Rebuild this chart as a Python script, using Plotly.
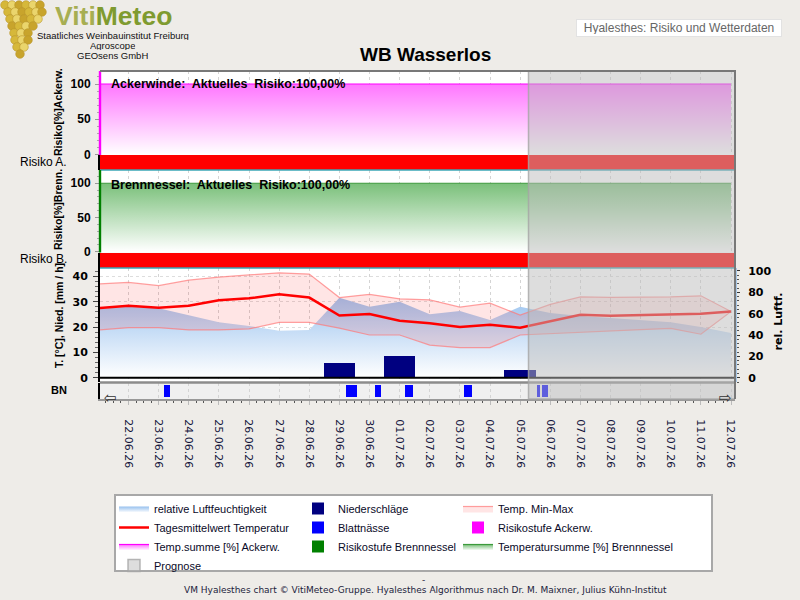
import plotly.graph_objects as go
import pandas as pd

# ---------------- data ----------------
dates = pd.date_range('2026-06-21', '2026-07-12', freq='D')
temp_mean = [27.5, 28.5, 27.7, 28.5, 30.6, 31.4, 33.0, 31.7, 24.6, 25.2, 22.5, 21.5, 20.1, 20.9, 19.8,
             22.5, 24.9, 24.5, 24.7, 25.1, 25.3, 26.2]
temp_max = [37.1, 37.7, 36.4, 38.6, 39.8, 40.6, 41.5, 41.0, 31.7, 33.0, 31.2, 30.8, 27.9, 29.5, 24.8,
            29.0, 32.0, 31.8, 31.8, 32.0, 32.4, 26.2]
temp_min = [18.9, 19.8, 19.8, 18.9, 18.9, 19.3, 21.9, 21.9, 19.6, 16.9, 16.9, 12.9, 11.9, 11.9, 16.9,
            17.5, 18.0, 18.5, 19.0, 19.5, 17.2, 26.2]
humidity = [64.4, 66.5, 65.0, 58.1, 51.9, 48.5, 44.0, 44.7, 75.0, 66.5, 71.2, 59.4, 62.5, 54.1, 66.5,
            60.6, 57.8, 56.0, 54.0, 52.0, 47.5, 42.0]
precip_dates = ['2026-06-29', '2026-07-01', '2026-07-05']
precip_mm = [5.8, 8.7, 3.0]
bn_start = ['2026-06-23 04:15', '2026-06-29 05:30', '2026-06-29 11:00', '2026-06-30 04:20',
            '2026-07-01 04:15', '2026-07-03 03:15', '2026-07-05 13:30', '2026-07-05 17:30']
bn_hours = [5, 5, 3, 5, 6, 6, 2, 5]
acker_sum = [100] * 22
brenn_sum = [100] * 22
risk_acker = [100] * 22
risk_brenn = [100] * 22
forecast_start = '2026-07-05 06:40'
x_range = ['2026-06-21 01:18', '2026-07-12 03:10']
current_risk_acker = '100,00%'
current_risk_brenn = '100,00%'

# ---------------- layout helpers ----------------
W, H = 800, 600
ML, MR, MT, MB = 100, 65, 71, 201
PW = W - ML - MR
PH = H - MT - MB
DAY = 86400000
HOUR = 3600000


def px(x):
    return (x - ML) / PW


def py(y):
    return (H - MB - y) / PH


LS = 'Liberation Sans, Arial, sans-serif'
DV = 'DejaVu Sans, Verdana, sans-serif'
BG = '#EEECE8'


def risk_color(v):
    return '#FF0000' if v >= 66 else ('#FFD700' if v >= 33 else '#00B000')


fig = go.Figure()

# ---- panel 1: Ackerwinde ----
fig.add_trace(go.Scatter(
    x=dates, y=acker_sum, mode='lines', fill='tozeroy',
    line=dict(color='#FF00FF', width=1.2),
    fillgradient=dict(type='vertical', colorscale=[[0, 'rgba(255,255,255,1)'], [1, 'rgba(255,118,255,1)']],
                      start=0, stop=100),
    xaxis='x', yaxis='y', name='Temp.summe [%] Ackerw.', legend='legend', legendrank=3, hoverinfo='skip'))
fig.add_trace(go.Bar(
    x=dates, y=[1 for _ in risk_acker], base=0, width=1.03 * DAY,
    marker=dict(color=[risk_color(r) for r in risk_acker], line=dict(width=0)),
    xaxis='x', yaxis='y2', showlegend=False, hoverinfo='skip'))

# ---- panel 2: Brennnessel ----
fig.add_trace(go.Scatter(
    x=dates, y=brenn_sum, mode='lines', fill='tozeroy',
    line=dict(color='#3C9A3C', width=1.2),
    fillgradient=dict(type='vertical', colorscale=[[0, 'rgba(255,255,255,1)'], [1, 'rgba(122,192,122,1)']],
                      start=0, stop=100),
    xaxis='x', yaxis='y3', name='Temperatursumme [%] Brennnessel', legend='legend3', legendrank=3,
    hoverinfo='skip'))
fig.add_trace(go.Bar(
    x=dates, y=[1 for _ in risk_brenn], base=0, width=1.03 * DAY,
    marker=dict(color=[risk_color(r) for r in risk_brenn], line=dict(width=0)),
    xaxis='x', yaxis='y4', showlegend=False, hoverinfo='skip'))

# ---- panel 3: weather ----
fig.add_trace(go.Scatter(
    x=dates, y=humidity, mode='lines', fill='tozeroy',
    line=dict(color='rgba(160,200,240,0)', width=0),
    fillgradient=dict(type='vertical', colorscale=[[0, 'rgba(255,255,255,1)'], [1, 'rgba(150,192,238,1)']],
                      start=0, stop=80),
    xaxis='x', yaxis='y5', name='relative Luftfeuchtigkeit', legend='legend', legendrank=1, hoverinfo='skip'))
fig.add_trace(go.Scatter(
    x=dates, y=temp_min, mode='lines', line=dict(color='rgba(255,120,120,0.7)', width=1.2),
    xaxis='x', yaxis='y6', showlegend=False, hoverinfo='skip'))
fig.add_trace(go.Scatter(
    x=dates, y=temp_max, mode='lines', fill='tonexty', fillcolor='rgba(255,0,0,0.1)',
    line=dict(color='rgba(255,120,120,0.7)', width=1.2),
    xaxis='x', yaxis='y6', name='Temp. Min-Max', legend='legend3', legendrank=1, hoverinfo='skip'))
fig.add_trace(go.Bar(
    x=precip_dates, y=precip_mm, width=1.05 * DAY, marker=dict(color='#000080', line=dict(width=0)),
    xaxis='x', yaxis='y6', name='Niederschläge', legend='legend2', legendrank=1, hoverinfo='skip'))
fig.add_trace(go.Scatter(
    x=dates, y=temp_mean, mode='lines', line=dict(color='#FF0000', width=2.5),
    xaxis='x', yaxis='y6', name='Tagesmittelwert Temperatur', legend='legend', legendrank=2, hoverinfo='skip'))

# ---- BN strip ----
fig.add_trace(go.Bar(
    x=bn_start, y=[1 for _ in bn_hours], base=0, offset=0, width=[h * HOUR for h in bn_hours],
    marker=dict(color='#0000FF', line=dict(width=0)),
    xaxis='x', yaxis='y7', name='Blattnässe', legend='legend2', legendrank=2, hoverinfo='skip'))

# ---------------- axes ----------------
tick_bold12 = dict(family=LS, size=12, color='#000', weight='bold')
tick_dv = dict(family=DV, size=11, color='#000', weight='bold')

layout = dict(
    width=W, height=H, paper_bgcolor=BG, plot_bgcolor='white',
    margin=dict(l=ML, r=MR, t=MT, b=MB), barmode='overlay', bargap=0,
    xaxis=dict(domain=[0, 1], anchor='y7', type='date', range=x_range, dtick=DAY, tick0='2026-06-22',
               tickformat='%d.%m.%y', tickangle=90, ticks='outside', ticklen=4, tickcolor='#BBBBBB',
               showgrid=True, gridcolor='#D4D4D4', griddash='dot', gridwidth=1,
               showline=True, linecolor='#999999', linewidth=2, zeroline=False,
               minor=dict(dtick=6 * HOUR, ticks='outside', ticklen=2, tickcolor='#555555', showgrid=False),
               tickfont=dict(family=DV, size=11, color='#14143C'), ticklabelstandoff=12),
    yaxis=dict(domain=[py(155), 1], range=[-1, 118.5], anchor='x', tick0=0, dtick=50,
               ticks='outside', ticklen=4, tickcolor='#999999',
               minor=dict(dtick=10, ticks='outside', ticklen=2, tickcolor='#AAAAAA'),
               showgrid=False, zeroline=False, showline=False, tickfont=tick_bold12, ticklabelstandoff=2),
    yaxis2=dict(domain=[py(170), py(155)], range=[0, 1], anchor='x', showticklabels=False, ticks='',
                showgrid=False, zeroline=False, showline=True, linecolor='black', linewidth=2),
    yaxis3=dict(domain=[py(252.5), py(170)], range=[-1.2, 119.4], anchor='x', tick0=0, dtick=50,
                ticks='outside', ticklen=4, tickcolor='#999999',
                minor=dict(dtick=10, ticks='outside', ticklen=2, tickcolor='#AAAAAA'),
                showgrid=False, zeroline=False, showline=False, tickfont=tick_bold12, ticklabelstandoff=2),
    yaxis4=dict(domain=[py(268), py(252.5)], range=[0, 1], anchor='x', showticklabels=False, ticks='',
                showgrid=False, zeroline=False, showline=True, linecolor='black', linewidth=2),
    yaxis5=dict(domain=[py(382), py(268)], range=[-4.0, 102.8], anchor='x', side='right', dtick=20,
                ticks='outside', ticklen=3, tickcolor='#333333',
                minor=dict(dtick=4, ticks='outside', ticklen=2, tickcolor='#555555'),
                showgrid=False, zeroline=False, showline=True, linecolor='#A8C8E8', linewidth=2,
                tickfont=tick_dv, ticklabelstandoff=6),
    yaxis6=dict(overlaying='y5', side='left', anchor='x', range=[-1.7, 43.4], dtick=10,
                ticks='outside', ticklen=5, tickcolor='#444444',
                minor=dict(dtick=2, ticks='outside', ticklen=3, tickcolor='#666666'),
                showgrid=True, gridcolor='#DDDDDD', griddash='dot', zeroline=False,
                showline=True, linecolor='black', linewidth=2, tickfont=tick_dv, ticklabelstandoff=3),
    yaxis7=dict(domain=[0, py(383)], range=[-0.12, 1.12], anchor='x', showticklabels=False, ticks='',
                showgrid=False, zeroline=False, showline=True, linecolor='black', linewidth=2),
)

leg_common = dict(bgcolor='rgba(0,0,0,0)', borderwidth=0, orientation='v', xanchor='left', yanchor='top',
                  itemwidth=30, tracegroupgap=0, traceorder='normal',
                  font=dict(family=LS, size=11, color='#0A0A28'))
layout['legend'] = dict(leg_common, x=px(114), y=py(494))
layout['legend2'] = dict(leg_common, x=px(298), y=py(494))
layout['legend3'] = dict(leg_common, x=px(458), y=py(494))

# ---------------- shapes ----------------
shapes = []
# BN strip background
shapes.append(dict(type='rect', xref='x domain', yref='y7 domain', x0=0, x1=1, y0=0, y1=1,
                   fillcolor='#F0F0F0', line=dict(width=0), layer='below'))
# legend frame
shapes.append(dict(type='rect', xref='paper', yref='paper', x0=px(115), x1=px(712), y0=py(571), y1=py(495),
                   fillcolor='white', line=dict(color='#A8A8A8', width=2), layer='below'))
# zero line of the weather panel
shapes.append(dict(type='line', xref='x domain', yref='y6', x0=0, x1=1, y0=0, y1=0,
                   line=dict(color='black', width=2), layer='above'))
# teal separators under the risk bands
for ypix in (170, 268):
    shapes.append(dict(type='line', xref='paper', yref='paper', x0=0, x1=1, y0=py(ypix), y1=py(ypix),
                       line=dict(color='#3AA6B6', width=1.5), layer='above'))
# separator above BN strip
shapes.append(dict(type='line', xref='paper', yref='paper', x0=0, x1=1, y0=py(382.6), y1=py(382.6),
                   line=dict(color='#8C8C8C', width=2.5), layer='above'))
# risk level indicators (left edge)
shapes.append(dict(type='rect', xref='paper', yref='y domain', x0=px(98.8), x1=px(101.2), y0=0, y1=1,
                   fillcolor='#FF00FF', line=dict(width=0), layer='above',
                   showlegend=True, name='Risikostufe Ackerw.', legend='legend3', legendrank=2))
shapes.append(dict(type='rect', xref='paper', yref='y3 domain', x0=px(98.8), x1=px(101.2), y0=0, y1=1,
                   fillcolor='#008000', line=dict(width=0), layer='above',
                   showlegend=True, name='Risikostufe Brennnessel', legend='legend2', legendrank=3))
# forecast overlay
shapes.append(dict(type='rect', xref='x', yref='paper', x0=forecast_start, x1=x_range[1], y0=0, y1=1,
                   fillcolor='rgba(188,188,188,0.5)', line=dict(color='rgba(165,165,165,0.8)', width=1.5),
                   layer='above', showlegend=True, name='Prognose', legend='legend', legendrank=4))
# outer frame (top + right)
shapes.append(dict(type='path', xref='paper', yref='paper', path='M0,1 L1,1 L1,0',
                   line=dict(color='#787878', width=2), layer='above'))
# logo grapes (decoration)
grape_rows = [(5, [5, 12, 19, 26, 33, 40]), (12, [8, 15, 22, 29, 36, 42]), (19, [10, 17, 24, 31, 38]),
              (26, [12, 19, 26, 33]), (33, [14, 21, 28]), (40, [15, 22, 28]), (47, [17, 24]), (54, [20])]
gcols = ['#D6B83A', '#EAD56C', '#C8A42C']
k = 0
for gy, gxs in grape_rows:
    for gx in gxs:
        shapes.append(dict(type='circle', xref='paper', yref='paper', x0=px(gx - 4.3), x1=px(gx + 4.3),
                           y0=py(gy + 4.3), y1=py(gy - 4.3), fillcolor=gcols[k % 3],
                           line=dict(color='#B8962A', width=0.6), layer='below'))
        k += 1
layout['shapes'] = shapes


# ---------------- annotations ----------------
def ann(text, x, y, size, family=LS, color='#000', bold=False, xanchor='center', yanchor='middle',
        angle=0, **kw):
    return dict(text=text, x=px(x), y=py(y), xref='paper', yref='paper', showarrow=False,
                xanchor=xanchor, yanchor=yanchor, textangle=angle,
                font=dict(family=family, size=size, color=color, weight='bold' if bold else 'normal'), **kw)


nb = '\u00a0'
annotations = [
    ann('WB Wasserlos', 425.5, 54.5, 19, bold=True),
    ann("<span style='color:#A7AE52'>Viti</span><span style='color:#7F9B30'>Meteo</span>", 113, 15.5, 26.5,
        bold=True, height=22, valign='middle'),
    ann('Staatliches Weinbauinstitut Freiburg', 112.5, 35.5, 9.5, color='#111', height=9),
    ann('Agroscope', 112.5, 45.5, 9.5, color='#111', height=9),
    ann('GEOsens GmbH', 112.5, 55.5, 9.5, color='#111', height=9),
    ann('Hyalesthes: Risiko und Wetterdaten', 679, 28.5, 12, color='#666666', bgcolor='white',
        bordercolor='#E2E2E2', borderwidth=1, borderpad=2, width=200, height=12),
    ann('Ackerwinde:' + nb + ' Aktuelles' + nb + ' Risiko:' + current_risk_acker, 109, 84, 12.5, bold=True,
        xanchor='left'),
    ann('Brennnessel:' + nb + ' Aktuelles' + nb + ' Risiko:' + current_risk_brenn, 109, 185, 12.5, bold=True,
        xanchor='left'),
    ann('Risiko[%]Ackerw.', 58, 112, 10.5, bold=True, angle=-90),
    ann('Risiko A.', 68.5, 162, 12, xanchor='right'),
    ann('Risiko[%]Brenn.', 58, 210, 10.5, bold=True, angle=-90),
    ann('Risiko B.', 68.5, 259, 12, xanchor='right'),
    ann('T. [°C], Nied. [mm / h]', 59, 316, 10.5, bold=True, angle=-90),
    ann('BN', 59, 390, 11, bold=True),
    ann('rel. Luftf.', 778, 321.5, 11, family=DV, bold=True, angle=-90),
    ann('⇦', 110, 398, 15, family=DV, color='#333'),
    ann('⇨', 725, 398, 15, family=DV, color='#333'),
    ann('-', 423, 580, 9, family=DV, color='#1C1C3C'),
    ann('VM Hyalesthes chart © VitiMeteo-Gruppe. Hyalesthes Algorithmus nach Dr. M. Maixner, '
        'Julius Kühn-Institut', 425, 590, 9, family=DV, color='#1C1C3C'),
]
layout['annotations'] = annotations

fig.update_layout(**layout)
fig.write_html('out.html', include_plotlyjs=True, config=dict(displayModeBar=False))
